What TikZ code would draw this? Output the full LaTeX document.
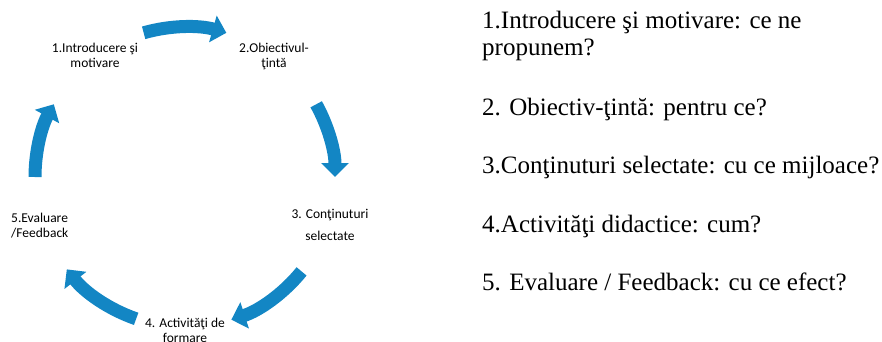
\documentclass[tikz,border=0pt]{standalone}
\usepackage{fontspec}
\setmainfont{Liberation Serif}
\newfontfamily\stagefont{Carlito}
\usetikzlibrary{arrows.meta, positioning}
\definecolor{cycleblue}{RGB}{19,134,196}
\tikzstyle{stage} = [inner sep=0pt, align=center, font=\stagefont\fontsize{13.5}{15}\selectfont]
\tikzstyle{question} = [inner sep=0pt, anchor=base west, align=left, font=\fontsize{25}{27}\selectfont]
\tikzstyle{cyclearrow} = [line width=13pt, draw=cycleblue, -{Triangle[width=27pt,length=14pt]}]

\begin{document}
\begin{tikzpicture}[x=1pt, y=1pt]
	\useasboundingbox (0,0) rectangle (882,-341);

	% Cycle centre
	\coordinate(c) at (185,-177);

	% Stage labels - - - - - - - - - - - - - - - - - - - - - - - - - - - - - - -
	\node(s1)[stage, anchor=base] at (95,-67) {1.Introducere şi\\motivare};
	\node(s2)[stage, anchor=base] at (274,-67) {2.Obiectivul-\\ţintă};
	\node(s3)[stage, anchor=base] at (330,-240) {3. Conţinuturi\\[7pt]selectate};
	\node(s4)[stage, anchor=base] at (185,-342) {4. Activităţi de\\formare};
	\node(s5)[stage, anchor=base west, align=left] at (11,-237) {5.Evaluare\\/Feedback};

	% Cycle arrows - - - - - - - - - - - - - - - - - - - - - - - - - - - - - - -
	\coordinate(a1) at ([shift={(106:150)}]c);
	\coordinate(a2) at ([shift={(29:150)}]c);
	\coordinate(a3) at ([shift={(-39:150)}]c);
	\coordinate(a4) at ([shift={(251:150)}]c);
	\coordinate(a5) at ([shift={(180:150)}]c);
	\draw[cyclearrow](a1) arc[start angle=106, end angle=74, radius=150];
	\draw[cyclearrow](a2) arc[start angle=29, end angle=0, radius=150];
	\draw[cyclearrow](a3) arc[start angle=-39, end angle=-72, radius=150];
	\draw[cyclearrow](a4) arc[start angle=251, end angle=218, radius=150];
	\draw[cyclearrow](a5) arc[start angle=180, end angle=151, radius=150];

	% Questions - - - - - - - - - - - - - - - - - - - - - - - - - - - - - - - -
	\node(q1)[question] at (482,-55) {1.Introducere şi motivare: ce ne\\propunem?};
	\node(q2)[question] at (482,-115) {2. Obiectiv-ţintă: pentru ce?};
	\node(q3)[question] at (482,-173) {3.Conţinuturi selectate: cu ce mijloace?};
	\node(q4)[question] at (482,-232) {4.Activităţi didactice: cum?};
	\node(q5)[question] at (482,-290) {5. Evaluare / Feedback: cu ce efect?};

\end{tikzpicture}
\end{document}
